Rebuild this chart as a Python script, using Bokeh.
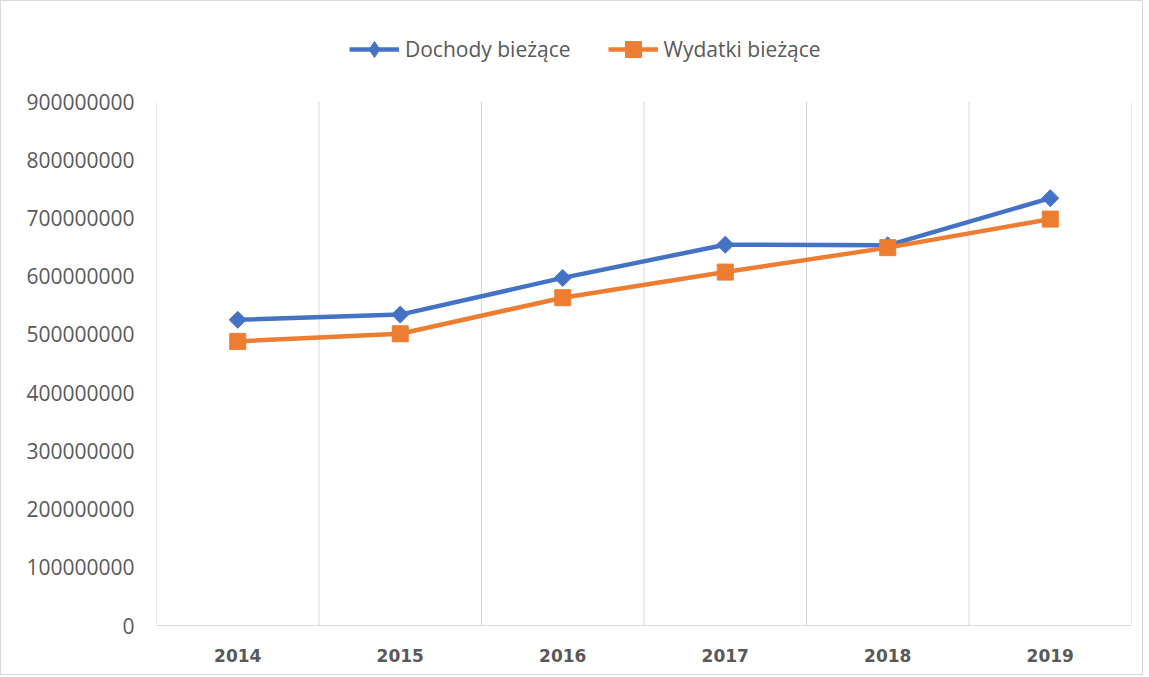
import math
from bokeh.plotting import figure
from bokeh.models import (Range1d, FixedTicker, NumeralTickFormatter, Legend, LegendItem,
                          ColumnDataSource)
from bokeh.embed import file_html
from bokeh.resources import INLINE

years = ["2014", "2015", "2016", "2017", "2018", "2019"]
dochody = [525000000, 534000000, 597000000, 654000000, 653000000, 734000000]
wydatki = [488000000, 501000000, 563000000, 607000000, 649000000, 698000000]
series_names = ["Dochody bieżące", "Wydatki bieżące"]
y_ticks = [0, 100000000, 200000000, 300000000, 400000000, 500000000,
           600000000, 700000000, 800000000, 900000000]

BLUE = "#4472C4"
ORANGE = "#ED7D31"
GRID = "#D9D9D9"
TEXT = "#595959"
FONT = "Open Sans"

W, H = 1143, 675
B_LEFT, B_RIGHT, B_TOP, B_BOTTOM = 155, 13, 20, 51
AXIS_PX = 524  # pixel height of the value axis (0 .. max tick)
frame_h = H - B_TOP - B_BOTTOM
y_end = y_ticks[-1] * frame_h / AXIS_PX   # leaves room for the legend inside the frame

idx = list(range(len(years)))
src = ColumnDataSource(dict(x=idx, d=dochody, w=wydatki))
bounds = [i - 0.5 for i in range(len(years) + 1)]
grid_src = ColumnDataSource(dict(x=bounds, y0=[y_ticks[0]] * len(bounds),
                                 y1=[y_ticks[-1]] * len(bounds)))

p = figure(width=W, height=H, output_backend="svg", toolbar_location=None,
           x_range=Range1d(-0.5, len(years) - 0.5), y_range=Range1d(y_ticks[0], y_end),
           min_border_left=B_LEFT, min_border_right=B_RIGHT, min_border_top=B_TOP,
           min_border_bottom=B_BOTTOM,
           background_fill_color="white", border_fill_color="white",
           styles={"border": "1px solid #D9D9D9"})
p.outline_line_color = None
p.xgrid.grid_line_color = None
p.ygrid.grid_line_color = None

# vertical grid lines at category boundaries, only up to the top tick
p.segment(x0="x", y0="y0", x1="x", y1="y1", source=grid_src, line_color=GRID, line_width=1)

# x axis
p.xaxis.ticker = FixedTicker(ticks=idx)
p.xaxis.major_label_overrides = {i: y for i, y in zip(idx, years)}
p.xaxis.axis_line_color = GRID
p.xaxis.axis_line_width = 1
p.xaxis.major_tick_line_color = None
p.xaxis.minor_tick_line_color = None
p.xaxis.major_tick_in = 0
p.xaxis.major_tick_out = 0
p.xaxis.major_label_standoff = 23
p.xaxis.major_label_text_font = "DejaVu Sans"
p.xaxis.major_label_text_font_style = "bold"
p.xaxis.major_label_text_font_size = "17px"
p.xaxis.major_label_text_color = TEXT

# y axis
p.yaxis.ticker = FixedTicker(ticks=y_ticks)
p.yaxis.formatter = NumeralTickFormatter(format="0")
p.yaxis.axis_line_color = None
p.yaxis.major_tick_line_color = None
p.yaxis.minor_tick_line_color = None
p.yaxis.major_tick_in = 0
p.yaxis.major_tick_out = 0
p.yaxis.major_label_standoff = 22
p.yaxis.major_label_text_font = FONT
p.yaxis.major_label_text_font_size = "21px"
p.yaxis.major_label_text_color = TEXT

l1 = p.line("x", "d", source=src, line_color=BLUE, line_width=4.5)
# plain diamond drawn beneath the rotated squares; used as the legend key
key1 = p.scatter("x", "d", source=src, marker="diamond", size=10,
                 fill_color=BLUE, line_color=BLUE)
m1 = p.scatter("x", "d", source=src, marker="square", angle=math.pi / 4, size=12,
               fill_color=BLUE, line_color=BLUE)
l2 = p.line("x", "w", source=src, line_color=ORANGE, line_width=4.5)
m2 = p.scatter("x", "w", source=src, marker="square", size=16,
               fill_color=ORANGE, line_color=ORANGE)

legend = Legend(items=[LegendItem(label=series_names[0], renderers=[l1, key1]),
                       LegendItem(label=series_names[1], renderers=[l2, m2])],
                orientation="horizontal", location=(193, 556),
                glyph_width=50, glyph_height=40, label_standoff=6, spacing=37,
                padding=0, margin=0, border_line_color=None, background_fill_alpha=0,
                label_text_font=FONT, label_text_font_size="21px", label_text_color=TEXT)
p.add_layout(legend, "center")

open("out.html", "w").write(file_html(p, INLINE))
